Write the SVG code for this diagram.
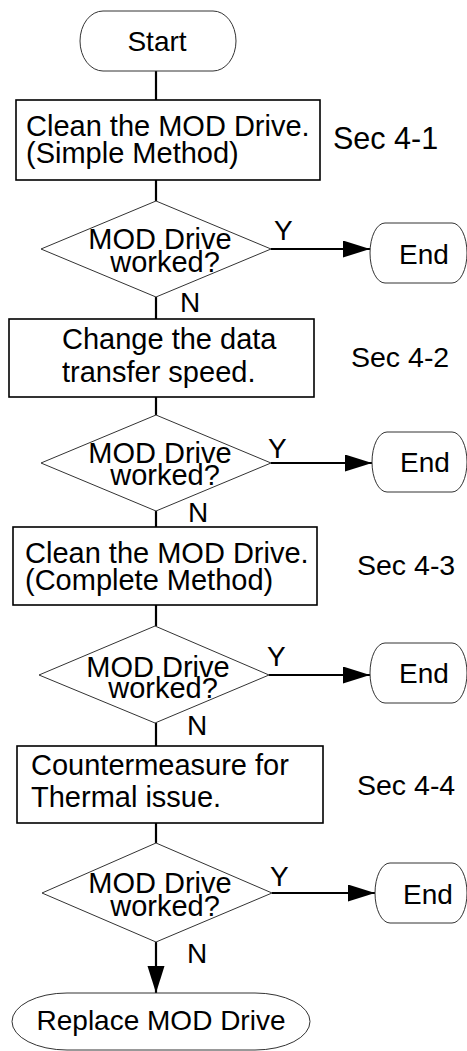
<svg xmlns="http://www.w3.org/2000/svg" width="467" height="1051" viewBox="0 0 467 1051">
  <style>
    text { font-family: "Liberation Sans", Arial, sans-serif; fill: #000; }
    .lbl { font-size: 29px; }
    .term-t { font-size: 28px; text-anchor: middle; }
    .yn { font-size: 28px; }
    .sec { font-size: 28.5px; }
    .dia-t { font-size: 29px; text-anchor: middle; }
    .box { fill: #fff; stroke: #000; stroke-width: 1.6; }
    .term { fill: #fff; stroke: #333; stroke-width: 1; }
    .dia { fill: #fff; stroke: #333; stroke-width: 1; }
    .wire { fill: none; stroke: #000; stroke-width: 2.2; }
  </style>
  <defs>
    <marker id="arrow" markerUnits="userSpaceOnUse" markerWidth="28" markerHeight="18" refX="27" refY="8.5" orient="auto">
      <path d="M0,0 L27,8.5 L0,17 z" fill="#000"/>
    </marker>
  </defs>

  <!-- connectors -->
  <g id="connectors">
    <line class="wire" x1="156" y1="71" x2="156" y2="100"/>
    <line class="wire" x1="156" y1="180" x2="156" y2="201"/>
    <line class="wire" x1="156" y1="297" x2="156" y2="319"/>
    <line class="wire" x1="156" y1="397" x2="156" y2="415"/>
    <line class="wire" x1="156" y1="511" x2="156" y2="527"/>
    <line class="wire" x1="156" y1="605" x2="156" y2="626"/>
    <line class="wire" x1="156" y1="723" x2="156" y2="746"/>
    <line class="wire" x1="156" y1="823" x2="156" y2="843"/>
    <line class="wire" x1="156" y1="942" x2="156" y2="993" marker-end="url(#arrow)"/>
    <line class="wire" x1="271" y1="249" x2="370" y2="249" marker-end="url(#arrow)"/>
    <line class="wire" x1="271" y1="463" x2="372" y2="463" marker-end="url(#arrow)"/>
    <line class="wire" x1="269" y1="675" x2="370" y2="675" marker-end="url(#arrow)"/>
    <line class="wire" x1="272" y1="893" x2="375" y2="893" marker-end="url(#arrow)"/>
    <text class="yn" x="274" y="240">Y</text>
    <text class="yn" x="180" y="312">N</text>
    <text class="yn" x="268" y="458">Y</text>
    <text class="yn" x="188" y="522">N</text>
    <text class="yn" x="267" y="666">Y</text>
    <text class="yn" x="187" y="735">N</text>
    <text class="yn" x="270" y="886">Y</text>
    <text class="yn" x="187" y="963">N</text>
  </g>

  <!-- start -->
  <g id="start">
    <rect class="term" x="80" y="11" width="156" height="60" rx="23" ry="30"/>
    <text class="term-t" x="157" y="51">Start</text>
  </g>

  <!-- step 1 -->
  <g id="step1">
    <rect class="box" x="16" y="100" width="304" height="80"/>
    <text class="lbl" x="26" y="136">Clean the MOD Drive.</text>
    <text class="lbl" x="26" y="163">(Simple Method)</text>
    <text class="sec" x="333" y="149" style="font-size:30.5px">Sec 4-1</text>
  </g>

  <g id="check1">
    <polygon class="dia" points="156,201 271,249 156,297 41,249"/>
    <text class="dia-t" x="160" y="249">MOD Drive</text>
    <text class="dia-t" x="165" y="272">worked?</text>
  </g>
  <g id="end1">
    <rect class="term" x="370" y="223" width="97" height="60" rx="15" ry="30"/>
    <text class="term-t" x="424" y="264">End</text>
  </g>

  <!-- step 2 -->
  <g id="step2">
    <rect class="box" x="9" y="319" width="305" height="78"/>
    <text class="lbl" x="62" y="349">Change the data</text>
    <text class="lbl" x="62" y="382">transfer speed.</text>
    <text class="sec" x="351" y="367">Sec 4-2</text>
  </g>

  <g id="check2">
    <polygon class="dia" points="156,415 271,463 156,511 41,463"/>
    <text class="dia-t" x="160" y="463">MOD Drive</text>
    <text class="dia-t" x="165" y="485">worked?</text>
  </g>
  <g id="end2">
    <rect class="term" x="372" y="432" width="95" height="60" rx="15" ry="30"/>
    <text class="term-t" x="425" y="472">End</text>
  </g>

  <!-- step 3 -->
  <g id="step3">
    <rect class="box" x="13" y="527" width="304" height="78"/>
    <text class="lbl" x="25" y="563">Clean the MOD Drive.</text>
    <text class="lbl" x="25" y="590">(Complete Method)</text>
    <text class="sec" x="357" y="575">Sec 4-3</text>
  </g>

  <g id="check3">
    <polygon class="dia" points="155,626 269,675 155,723 39,675"/>
    <text class="dia-t" x="158" y="677">MOD Drive</text>
    <text class="dia-t" x="163" y="698">worked?</text>
  </g>
  <g id="end3">
    <rect class="term" x="370" y="643" width="97" height="60" rx="15" ry="30"/>
    <text class="term-t" x="424" y="683">End</text>
  </g>

  <!-- step 4 -->
  <g id="step4">
    <rect class="box" x="17" y="746" width="306" height="77"/>
    <text class="lbl" x="31" y="775">Countermeasure for</text>
    <text class="lbl" x="31" y="807">Thermal issue.</text>
    <text class="sec" x="357" y="795">Sec 4-4</text>
  </g>

  <g id="check4">
    <polygon class="dia" points="156,843 272,893 156,942 42,893"/>
    <text class="dia-t" x="160" y="893">MOD Drive</text>
    <text class="dia-t" x="165" y="916">worked?</text>
  </g>
  <g id="end4">
    <rect class="term" x="375" y="863" width="92" height="60" rx="15" ry="30"/>
    <text class="term-t" x="428" y="904">End</text>
  </g>

  <!-- final action -->
  <g id="replace">
    <rect class="term" x="12" y="993" width="298" height="57" rx="55" ry="28.5"/>
    <text class="term-t" x="161" y="1030">Replace MOD Drive</text>
  </g>
</svg>
